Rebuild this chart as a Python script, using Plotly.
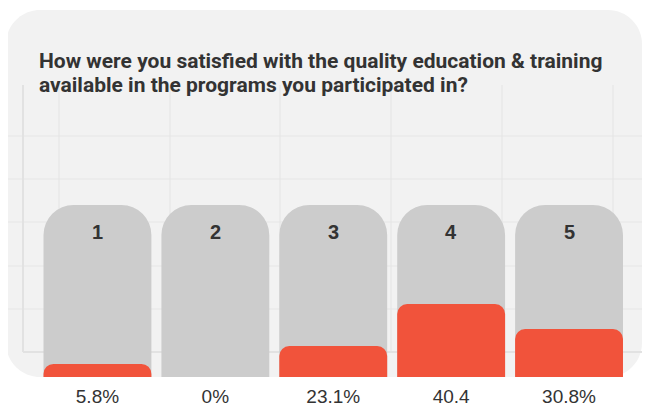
import plotly.graph_objects as go

# ---- data ----
categories = ["1", "2", "3", "4", "5"]
bar_heights = [7.6, 0, 18.0, 42.4, 27.9]      # red bar heights, % of grey track
value_labels = ["5.8%", "0%", "23.1%", "40.4", "30.8%"]
track_values = [100, 100, 100, 100, 100]
title_lines = ["How were you satisfied with the quality education & training",
               "available in the programs you participated in?"]

W, H = 651, 409
OFF = 8  # page body margin
def X(px): return (px - OFF) / W
def Y(py): return 1 - (py - OFF) / H

fig = go.Figure()
fig.add_trace(go.Bar(x=categories, y=track_values, marker=dict(color="#cccccc", cornerradius=30, line=dict(width=0)),
                     hoverinfo="skip", showlegend=False))
# red bars on overlaying axes so that their own top corners get rounded
fig.add_trace(go.Bar(x=categories, y=bar_heights, xaxis="x2", yaxis="y2",
                     marker=dict(color="#f1533b", cornerradius=10, line=dict(width=0)),
                     showlegend=False))

shapes = []
# rounded panel
x0, x1, y0, y1, r = 6, 642, 10, 377, 34
k = 0.45
p = []
p.append(f"M{X(x0+r)},{Y(y0)}")
p.append(f"L{X(x1-r)},{Y(y0)}")
p.append(f"C{X(x1-r*k)},{Y(y0)} {X(x1)},{Y(y0+r*k)} {X(x1)},{Y(y0+r)}")
p.append(f"L{X(x1)},{Y(y1-r)}")
p.append(f"C{X(x1)},{Y(y1-r*k)} {X(x1-r*k)},{Y(y1)} {X(x1-r)},{Y(y1)}")
p.append(f"L{X(x0+r)},{Y(y1)}")
p.append(f"C{X(x0+r*k)},{Y(y1)} {X(x0)},{Y(y1-r*k)} {X(x0)},{Y(y1-r)}")
p.append(f"L{X(x0)},{Y(y0+r)}")
p.append(f"C{X(x0)},{Y(y0+r*k)} {X(x0+r*k)},{Y(y0)} {X(x0+r)},{Y(y0)}")
p.append("Z")
shapes.append(dict(type="path", path=" ".join(p), xref="paper", yref="paper",
                   fillcolor="#f2f2f2", line=dict(width=0), layer="below"))
# decorative background grid
grid_col = "#e6e6e6"
for gx in [59, 170, 280, 391, 502, 613]:
    shapes.append(dict(type="line", xref="paper", yref="paper", x0=X(gx), x1=X(gx), y0=Y(85), y1=Y(352),
                       line=dict(color=grid_col, width=1.2), layer="below"))
for gy in [136, 179, 222, 266, 309]:
    shapes.append(dict(type="line", xref="paper", yref="paper", x0=X(7), x1=X(642), y0=Y(gy), y1=Y(gy),
                       line=dict(color=grid_col, width=1.2), layer="below"))
shapes.append(dict(type="line", xref="paper", yref="paper", x0=X(23), x1=X(23), y0=Y(85), y1=Y(352),
                   line=dict(color="#e2e2e2", width=2), layer="below"))
shapes.append(dict(type="line", xref="paper", yref="paper", x0=X(23), x1=X(642), y0=Y(352), y1=Y(352),
                   line=dict(color="#e2e2e2", width=2), layer="below"))

annotations = []
for i, line in enumerate(title_lines):
    annotations.append(dict(text=f"<b>{line}</b>", xref="paper", yref="paper", x=X(37), y=Y(61 + 24 * i),
                            xanchor="left", yanchor="middle", showarrow=False,
                            font=dict(family="Roboto", size=21, color="#333333")))
for i, (c, v) in enumerate(zip(categories, track_values)):
    annotations.append(dict(text=f"<b>{c}</b>", x=i, y=v, xref="x", yref="y", yshift=-27,
                            xanchor="center", yanchor="middle", showarrow=False,
                            font=dict(family="Liberation Sans", size=20, color="#333333")))

fig.update_layout(
    width=W, height=H, margin=dict(l=0, r=0, t=0, b=0),
    paper_bgcolor="white", plot_bgcolor="rgba(0,0,0,0)",
    barmode="overlay", bargap=0.085,
    shapes=shapes, annotations=annotations,
    xaxis=dict(type="category", domain=[X(38.5), X(628)], range=[-0.5, 4.5], showgrid=False, zeroline=False,
               showline=False, tickmode="array", tickvals=categories, ticktext=value_labels, ticks="",
               automargin=False, tickfont=dict(family="Liberation Sans", size=19, color="#333333"),
               ticklabelstandoff=6),
    yaxis=dict(domain=[Y(377), Y(205)], range=[0, 100], showgrid=False, zeroline=False,
               showticklabels=False, showline=False, automargin=False, fixedrange=True),
    xaxis2=dict(type="category", overlaying="x", range=[-0.5, 4.5], showgrid=False, zeroline=False,
                showline=False, showticklabels=False, ticks="", automargin=False),
    yaxis2=dict(overlaying="y", range=[0, 100], showgrid=False, zeroline=False,
                showticklabels=False, showline=False, automargin=False, fixedrange=True),
)
fig.write_html("out.html")
